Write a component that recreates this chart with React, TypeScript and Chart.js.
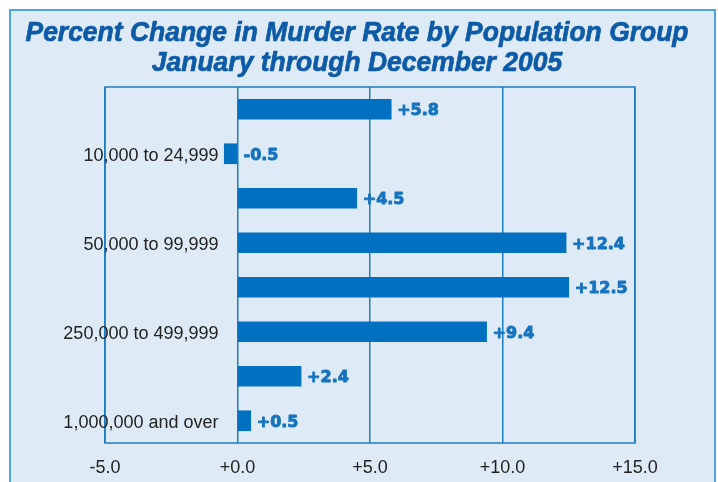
import React, { useEffect, useRef } from "react";
import { Chart, registerables } from "chart.js";

Chart.register(...registerables);

const TITLE_LINES = [
  "Percent Change in Murder Rate by Population Group",
  "January through December 2005",
];
const CATEGORIES = [
  "Under 10,000",
  "10,000 to 24,999",
  "25,000 to 49,999",
  "50,000 to 99,999",
  "100,000 to 249,999",
  "250,000 to 499,999",
  "500,000 to 999,999",
  "1,000,000 and over",
];
const SHOWN_LABELS = [false, true, false, true, false, true, false, true];
const VALUES = [5.8, -0.5, 4.5, 12.4, 12.5, 9.4, 2.4, 0.5];
const X_MIN = -5;
const X_MAX = 15;
const X_STEP = 5;

const BLUE = "#0070c0";
const GRID = "#1f7cc6";
const TEXT = "#222222";

const fmt = (v: number) => (v >= 0 ? "+" : "") + v.toFixed(1);

const overlayPlugin = {
  id: "overlay",
  afterDatasetsDraw(chart: any) {
    const { ctx, chartArea, scales } = chart;
    const xs = scales.x;
    const ys = scales.y;
    ctx.save();
    // plot frame
    ctx.strokeStyle = GRID;
    ctx.lineWidth = 1.5;
    ctx.strokeRect(chartArea.left, chartArea.top, chartArea.right - chartArea.left, chartArea.bottom - chartArea.top);

    // category labels (every other one shown)
    ctx.font = "18px 'Liberation Sans', Arial, sans-serif";
    ctx.fillStyle = TEXT;
    ctx.textAlign = "right";
    ctx.textBaseline = "middle";
    const zero = xs.getPixelForValue(0);
    CATEGORIES.forEach((c, i) => {
      if (!SHOWN_LABELS[i]) return;
      ctx.fillText(c, zero - 19, ys.getPixelForValue(i) + 2);
    });

    // value labels
    ctx.font = "bold 16px 'DejaVu Sans', sans-serif";
    ctx.fillStyle = "#1673bf";
    ctx.strokeStyle = "#1673bf";
    ctx.lineWidth = 0.9;
    ctx.lineJoin = "round";
    ctx.textAlign = "left";
    VALUES.forEach((v, i) => {
      const x = xs.getPixelForValue(Math.max(v, 0)) + 6;
      const y = ys.getPixelForValue(i) + 2;
      ctx.fillText(fmt(v), x, y);
      ctx.strokeText(fmt(v), x, y);
    });

    // title
    ctx.font = "italic bold 28px 'Liberation Sans', Arial, sans-serif";
    ctx.fillStyle = "#0d5aa7";
    ctx.strokeStyle = "#0d5aa7";
    ctx.lineWidth = 0.7;
    ctx.textAlign = "center";
    ctx.textBaseline = "alphabetic";
    const w0 = ctx.measureText(TITLE_LINES[0]).width;
    const sx = 663 / w0;
    const baselines = [41, 71];
    TITLE_LINES.forEach((t, i) => {
      ctx.save();
      ctx.translate(357, baselines[i]);
      ctx.scale(sx, 1);
      ctx.fillText(t, 0, 0);
      ctx.strokeText(t, 0, 0);
      ctx.restore();
    });
    ctx.restore();
  },
};

export default function App() {
  const ref = useRef<HTMLCanvasElement | null>(null);

  useEffect(() => {
    document.body.style.margin = "0";
    const canvas = ref.current!;
    const chart = new Chart(canvas, {
      type: "bar",
      data: {
        labels: CATEGORIES,
        datasets: [
          {
            data: VALUES,
            backgroundColor: BLUE,
            borderWidth: 0,
            barThickness: 20,
          },
        ],
      },
      options: {
        indexAxis: "y",
        responsive: false,
        animation: false,
        layout: { padding: { left: 105, right: 83, top: 87, bottom: 0 } },
        plugins: {
          legend: { display: false },
          title: { display: false },
          tooltip: { enabled: false },
        },
        scales: {
          y: {
            display: false,
            min: -0.55,
            max: 7.45,
          },
          x: {
            min: X_MIN,
            max: X_MAX,
            ticks: {
              stepSize: X_STEP,
              padding: 14,
              color: TEXT,
              font: { family: "'Liberation Sans', Arial, sans-serif", size: 18 },
              callback: (v: any) => fmt(Number(v)),
            },
            grid: { color: GRID, lineWidth: 1.5, drawTicks: false },
            border: { display: false },
            afterFit: (s: any) => {
              s.height = 482 - 443;
            },
          },
        },
      } as any,
      plugins: [overlayPlugin],
    });
    return () => chart.destroy();
  }, []);

  return (
    <div style={{ position: "relative", width: 718, height: 482, overflow: "hidden", background: "#fff" }}>
      <div
        style={{
          position: "absolute",
          left: 9,
          top: 9,
          width: 703,
          height: 500,
          border: "2px solid #4aa6dc",
          background: "#deebf6",
        }}
      />
      <canvas ref={ref} width={718} height={482} style={{ position: "absolute", left: 0, top: 0 }} />
    </div>
  );
}
